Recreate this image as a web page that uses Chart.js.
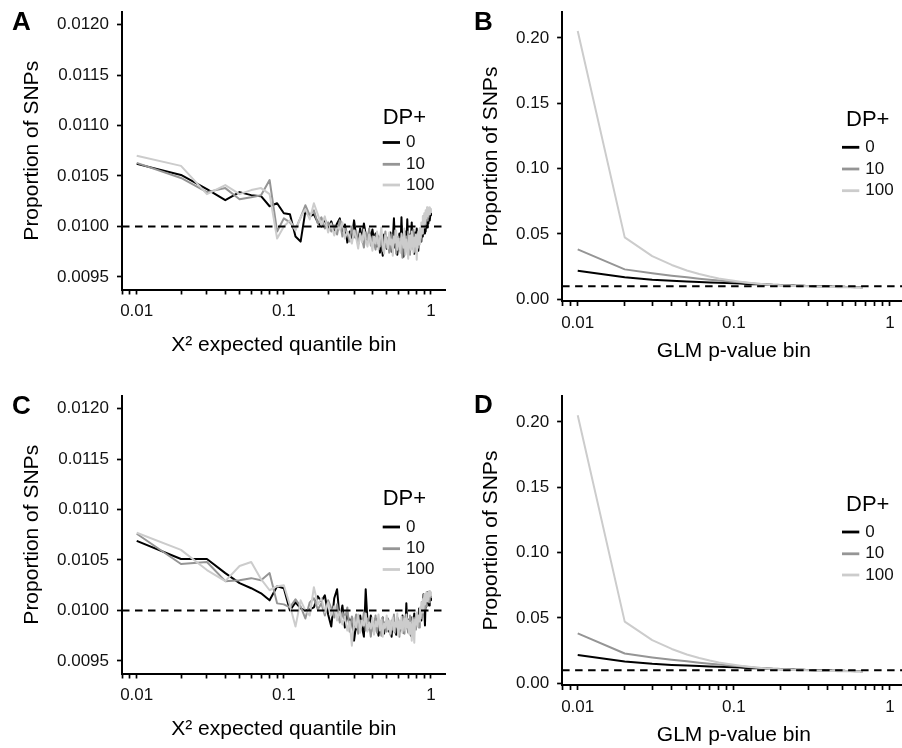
<!DOCTYPE html>
<html>
<head>
<meta charset="utf-8">
<script src="https://cdn.jsdelivr.net/npm/chart.js@4.4.1/dist/chart.umd.min.js"></script>
<style>
  html, body { margin: 0; padding: 0; background: #fff; }
  body { position: relative; width: 902px; height: 748px; overflow: hidden; }
  canvas { position: absolute; }
</style>
</head>
<body>
<canvas id="pA" width="451" height="364" style="left:0px;top:0px;width:451px;height:364px"></canvas>
<canvas id="pB" width="460" height="364" style="left:451px;top:0px;width:460px;height:364px"></canvas>
<canvas id="pC" width="451" height="364" style="left:0px;top:384px;width:451px;height:364px"></canvas>
<canvas id="pD" width="460" height="364" style="left:451px;top:384px;width:460px;height:364px"></canvas>
<script>
// ---------------- DATA ----------------
const bins = [
  0.01,0.02,0.03,0.04,0.05,0.06,0.07,0.08,0.09,0.10,
  0.11,0.12,0.13,0.14,0.15,0.16,0.17,0.18,0.19,0.20,
  0.21,0.22,0.23,0.24,0.25,0.26,0.27,0.28,0.29,0.30,
  0.31,0.32,0.33,0.34,0.35,0.36,0.37,0.38,0.39,0.40,
  0.41,0.42,0.43,0.44,0.45,0.46,0.47,0.48,0.49,0.50,
  0.51,0.52,0.53,0.54,0.55,0.56,0.57,0.58,0.59,0.60,
  0.61,0.62,0.63,0.64,0.65,0.66,0.67,0.68,0.69,0.70,
  0.71,0.72,0.73,0.74,0.75,0.76,0.77,0.78,0.79,0.80,
  0.81,0.82,0.83,0.84,0.85,0.86,0.87,0.88,0.89,0.90,
  0.91,0.92,0.93,0.94,0.95,0.96,0.97,0.98,0.99,1.00
];
const binsGLM = bins.slice(0, 67);

const seriesLabels = ['0', '10', '100'];
const seriesColors = ['#000000', '#959595', '#cccccc'];
const legendTitle = 'DP+';
const refLine = 0.01;

// Panel A: chi-square expected quantile bins
const a0 = [
  0.01062,0.01051,0.01037,0.01026,0.01034,0.01031,0.01030,0.01020,0.01023,0.01013,
  0.01012,0.00990,0.00985,0.01015,0.01010,0.01012,0.01004,0.01000,0.01007,0.00998,
  0.01005,0.00996,0.01003,0.01008,0.00994,0.01002,0.00984,0.00995,0.00988,0.01006,
  0.00990,0.00983,0.00998,0.00987,0.01003,0.00992,0.00985,0.00995,0.00989,0.00997,
  0.00986,0.00993,0.00980,0.00990,0.00974,0.00985,0.00971,0.00992,0.00983,0.00978,
  0.00988,0.00980,0.00994,0.00975,0.00986,0.01008,0.00979,0.00990,0.00972,0.00984,
  0.00993,0.00976,0.01009,0.00981,0.00970,0.00989,0.00995,0.00978,0.01007,0.00983,
  0.00975,0.00992,0.00986,0.01004,0.00979,0.00990,0.00973,0.00994,0.00985,0.00998,
  0.00982,0.00976,0.00993,0.00988,0.00997,0.00985,0.01002,0.00990,0.01010,0.00993,
  0.01001,0.00995,0.01008,0.00999,0.01012,0.01003,0.01016,0.01006,0.01011,0.01015
];
const a10 = [
  0.01063,0.01048,0.01034,0.01038,0.01027,0.01029,0.01031,0.01046,0.00995,0.01008,
  0.01004,0.00997,0.01009,0.01021,0.01011,0.01016,0.01003,0.01009,0.00998,0.01004,
  0.00995,0.01001,0.00992,0.01006,0.00990,0.00998,0.00993,0.00985,0.01000,0.00989,
  0.00996,0.00982,0.00992,0.00988,0.00979,0.00994,0.00986,0.00998,0.00981,0.00990,
  0.00984,0.00977,0.00993,0.00987,0.00980,0.00991,0.00976,0.00985,0.00995,0.00979,
  0.00989,0.00974,0.00983,0.00992,0.00978,0.00987,0.00996,0.00973,0.00984,0.00990,
  0.00977,0.00988,0.00981,0.00969,0.00992,0.00984,0.00975,0.00990,0.00980,0.00995,
  0.00983,0.00972,0.00991,0.00986,0.00978,0.00997,0.00982,0.00975,0.00989,0.00984,
  0.00993,0.00979,0.00988,0.00998,0.00985,0.00992,0.01003,0.00995,0.01008,0.00999,
  0.01011,0.01002,0.01014,0.01006,0.01017,0.01009,0.01018,0.01012,0.01016,0.01014
];
const a100 = [
  0.01070,0.01060,0.01032,0.01041,0.01032,0.01036,0.01038,0.01032,0.00988,0.01000,
  0.01006,0.00996,0.01009,0.01017,0.01007,0.01023,0.01012,0.01001,0.01010,0.00994,
  0.01003,0.00991,0.01000,0.00997,0.01004,0.00988,0.00995,0.00990,0.00983,0.00996,
  0.00989,0.00978,0.00993,0.00984,0.00997,0.00987,0.00980,0.00992,0.00986,0.00976,
  0.00990,0.00983,0.00995,0.00977,0.00988,0.00999,0.00981,0.00973,0.00991,0.00985,
  0.00978,0.00994,0.00982,0.00987,0.00971,0.00990,0.00984,0.00996,0.00977,0.00988,
  0.00982,0.00974,0.00993,0.00985,0.00979,0.00998,0.00972,0.00987,0.00981,0.00968,
  0.00991,0.00983,0.00977,0.00995,0.00986,0.00974,0.00989,0.00980,0.00992,0.00967,
  0.00987,0.00995,0.00982,0.00998,0.00989,0.01004,0.00993,0.01010,0.00999,0.01013,
  0.01003,0.01016,0.01008,0.01019,0.01010,0.01017,0.01012,0.01019,0.01014,0.01018
];

// Panel B: GLM p-value bins
const b0 = [
  0.0219,0.0168,0.0150,0.0142,0.0136,0.0132,0.0129,0.0126,0.0124,0.0122,
  0.0120,0.0118,0.0116,0.0115,0.0113,0.0112,0.0111,0.0110,0.0109,0.0108,
  0.0107,0.0106,0.0106,0.0105,0.0104,0.0104,0.0103,0.0103,0.0102,0.0102,
  0.0101,0.0101,0.0100,0.0100,0.0100,0.0099,0.0099,0.0099,0.0098,0.0098,
  0.0098,0.0098,0.0097,0.0097,0.0097,0.0097,0.0096,0.0096,0.0096,0.0096,
  0.0096,0.0095,0.0095,0.0095,0.0095,0.0095,0.0095,0.0094,0.0094,0.0094,
  0.0094,0.0094,0.0094,0.0094,0.0093,0.0093,0.0093
];
const b10 = [
  0.0382,0.0229,0.0199,0.0181,0.0168,0.0158,0.0150,0.0144,0.0139,0.0134,
  0.0130,0.0126,0.0123,0.0120,0.0118,0.0116,0.0114,0.0112,0.0111,0.0109,
  0.0108,0.0107,0.0106,0.0105,0.0104,0.0104,0.0103,0.0102,0.0102,0.0101,
  0.0101,0.0100,0.0100,0.0099,0.0099,0.0099,0.0098,0.0098,0.0098,0.0097,
  0.0097,0.0097,0.0097,0.0096,0.0096,0.0096,0.0096,0.0095,0.0095,0.0095,
  0.0095,0.0095,0.0094,0.0094,0.0094,0.0094,0.0094,0.0094,0.0093,0.0093,
  0.0093,0.0093,0.0093,0.0093,0.0092,0.0092,0.0092
];
const b100 = [
  0.2054,0.0474,0.0331,0.0263,0.0220,0.0193,0.0174,0.0160,0.0150,0.0142,
  0.0135,0.0129,0.0124,0.0120,0.0117,0.0114,0.0112,0.0110,0.0108,0.0106,
  0.0105,0.0104,0.0103,0.0102,0.0101,0.0100,0.0100,0.0099,0.0099,0.0098,
  0.0098,0.0097,0.0097,0.0097,0.0096,0.0096,0.0096,0.0095,0.0095,0.0095,
  0.0095,0.0094,0.0094,0.0094,0.0094,0.0093,0.0093,0.0093,0.0093,0.0093,
  0.0092,0.0092,0.0092,0.0092,0.0092,0.0092,0.0091,0.0091,0.0091,0.0091,
  0.0091,0.0091,0.0091,0.0090,0.0090,0.0090,0.0090
];

// Panel C: chi-square expected quantile bins
const c0 = [
  0.01069,0.01051,0.01051,0.01037,0.01027,0.01022,0.01017,0.01010,0.01024,0.01022,
  0.01000,0.01008,0.01002,0.01000,0.01001,0.01003,0.01014,0.01009,0.01015,0.00996,
  0.00984,0.01012,0.01021,0.00990,0.01005,0.00983,0.00996,0.00988,0.00992,0.00970,
  0.00986,0.00979,0.00995,0.00983,0.00974,0.01021,0.00990,0.00981,0.00995,0.00986,
  0.00978,0.00992,0.00984,0.00975,0.00989,0.00980,0.00993,0.00977,0.00988,0.00984,
  0.00991,0.00979,0.00985,0.00974,0.00990,0.00982,0.00987,0.00976,0.00993,0.00983,
  0.00979,0.00988,0.00984,0.00995,0.00978,0.00990,0.00982,0.01007,0.00986,0.00979,
  0.00991,0.00984,0.00975,0.00993,0.00981,0.00988,0.00997,0.00983,0.00990,0.00986,
  0.00995,0.00988,0.01002,0.00991,0.00998,0.00990,0.01008,0.00996,0.01016,0.01003,
  0.00985,0.01011,0.01004,0.01018,0.01007,0.01012,0.01005,0.01016,0.01010,0.01013
];
const c10 = [
  0.01076,0.01046,0.01048,0.01029,0.01030,0.01032,0.01030,0.01037,0.01007,0.01006,
  0.01003,0.01011,0.01004,0.00992,0.01008,0.01012,0.01001,0.01007,0.00995,0.01010,
  0.01002,0.00993,0.01006,0.00988,0.00998,0.00991,0.01003,0.00979,0.00994,0.00984,
  0.00996,0.00977,0.00990,0.00985,0.00998,0.00980,0.00992,0.00987,0.00974,0.00989,
  0.00983,0.00995,0.00978,0.00990,0.00986,0.00975,0.00993,0.00982,0.00988,0.00979,
  0.00992,0.00984,0.00976,0.00990,0.00981,0.00996,0.00978,0.00987,0.00983,0.00991,
  0.00974,0.00989,0.00985,0.00980,0.00994,0.00977,0.00988,0.00983,0.00992,0.00978,
  0.00986,0.00995,0.00980,0.00989,0.00976,0.00991,0.00984,0.00993,0.00981,0.00997,
  0.00988,0.00994,0.00983,0.01001,0.00992,0.00999,0.01006,0.00994,0.01012,0.01001,
  0.01009,0.01015,0.01004,0.01018,0.01010,0.01016,0.01008,0.01019,0.01013,0.01017
];
const c100 = [
  0.01077,0.01060,0.01040,0.01029,0.01044,0.01048,0.01031,0.01020,0.01024,0.01025,
  0.01005,0.00984,0.01010,0.01000,0.00995,0.01023,0.01006,0.01012,0.00998,0.01008,
  0.00995,0.01004,0.00990,0.00999,0.00986,0.00994,0.00980,0.00989,0.00965,0.00992,
  0.00983,0.00996,0.00978,0.00990,0.00985,0.00997,0.00979,0.00988,0.00982,0.00993,
  0.00976,0.00989,0.00984,0.00996,0.00980,0.00991,0.00974,0.00987,0.00983,0.00995,
  0.00981,0.00990,0.00977,0.00986,0.00993,0.00979,0.00988,0.00984,0.00997,0.00975,
  0.00989,0.00982,0.00994,0.00978,0.00987,0.00992,0.00980,0.00996,0.00983,0.00990,
  0.00977,0.00988,0.00984,0.00970,0.00993,0.00981,0.00968,0.00991,0.00986,0.00998,
  0.00984,0.00995,0.00989,0.01003,0.00992,0.01008,0.00998,0.01011,0.01002,0.01016,
  0.01006,0.01013,0.01018,0.01009,0.01017,0.01011,0.01019,0.01014,0.01018,0.01015
];

// Panel D: GLM p-value bins
const d0 = [
  0.0216,0.0167,0.0149,0.0141,0.0136,0.0132,0.0129,0.0126,0.0124,0.0122,
  0.0120,0.0118,0.0116,0.0115,0.0113,0.0112,0.0111,0.0110,0.0109,0.0108,
  0.0107,0.0106,0.0106,0.0105,0.0104,0.0104,0.0103,0.0103,0.0102,0.0102,
  0.0101,0.0101,0.0100,0.0100,0.0100,0.0099,0.0099,0.0099,0.0098,0.0098,
  0.0098,0.0098,0.0097,0.0097,0.0097,0.0097,0.0096,0.0096,0.0096,0.0096,
  0.0096,0.0095,0.0095,0.0095,0.0095,0.0095,0.0095,0.0094,0.0094,0.0094,
  0.0094,0.0094,0.0094,0.0094,0.0093,0.0093,0.0093
];
const d10 = [
  0.0382,0.0228,0.0198,0.0180,0.0168,0.0158,0.0150,0.0144,0.0139,0.0134,
  0.0130,0.0126,0.0123,0.0120,0.0118,0.0116,0.0114,0.0112,0.0111,0.0109,
  0.0108,0.0107,0.0106,0.0105,0.0104,0.0104,0.0103,0.0102,0.0102,0.0101,
  0.0101,0.0100,0.0100,0.0099,0.0099,0.0099,0.0098,0.0098,0.0098,0.0097,
  0.0097,0.0097,0.0097,0.0096,0.0096,0.0096,0.0096,0.0095,0.0095,0.0095,
  0.0095,0.0095,0.0094,0.0094,0.0094,0.0094,0.0094,0.0094,0.0093,0.0093,
  0.0093,0.0093,0.0093,0.0093,0.0092,0.0092,0.0092
];
const d100 = [
  0.2051,0.0472,0.0330,0.0263,0.0220,0.0193,0.0174,0.0160,0.0150,0.0142,
  0.0135,0.0129,0.0124,0.0120,0.0117,0.0114,0.0112,0.0110,0.0108,0.0106,
  0.0105,0.0104,0.0103,0.0102,0.0101,0.0100,0.0100,0.0099,0.0099,0.0098,
  0.0098,0.0097,0.0097,0.0097,0.0096,0.0096,0.0096,0.0095,0.0095,0.0095,
  0.0095,0.0094,0.0094,0.0094,0.0094,0.0093,0.0093,0.0093,0.0093,0.0093,
  0.0092,0.0092,0.0092,0.0092,0.0092,0.0092,0.0091,0.0091,0.0091,0.0091,
  0.0091,0.0091,0.0091,0.0090,0.0090,0.0090,0.0090
];

// Tick values and labels
const xTickValues = [0.008,0.009,0.01,0.02,0.03,0.04,0.05,0.06,0.07,0.08,0.09,0.1,0.2,0.3,0.4,0.5,0.6,0.7,0.8,0.9,1];
const xTickLabels = ['','','0.01','','','','','','','','','0.1','','','','','','','','','1'];
const yTickValuesChi = [0.0095,0.0100,0.0105,0.0110,0.0115,0.0120];
const yTickLabelsChi = ['0.0095','0.0100','0.0105','0.0110','0.0115','0.0120'];
const yTickValuesGLM = [0.00,0.05,0.10,0.15,0.20];
const yTickLabelsGLM = ['0.00','0.05','0.10','0.15','0.20'];

const xTitleChi = 'Χ² expected quantile bin';
const xTitleGLM = 'GLM p-value bin';
const yTitle = 'Proportion of SNPs';

// ---------------- RENDERING ----------------
const FONT = '"Liberation Sans", Arial, Helvetica, sans-serif';
const X_MIN = Math.pow(10, -2.1), X_MAX = Math.pow(10, 0.1);

const decor = {
  id: 'decor',
  afterDraw(chart, args, o) {
    const ctx = chart.ctx;
    ctx.save();
    ctx.fillStyle = '#000';
    ctx.font = 'bold 26px ' + FONT;
    ctx.textBaseline = 'alphabetic';
    ctx.textAlign = 'left';
    ctx.fillText(o.letter, o.letterX, o.letterY);
    ctx.font = '22px ' + FONT;
    ctx.textBaseline = 'middle';
    ctx.fillText(legendTitle, o.titleX, o.titleY);
    ctx.font = '17px ' + FONT;
    const ds = chart.data.datasets.filter(d => d.legendIndex !== undefined)
      .sort((p, q) => p.legendIndex - q.legendIndex);
    ds.forEach((d, i) => {
      const y = o.rowY[i];
      ctx.strokeStyle = d.borderColor;
      ctx.lineWidth = 2.8;
      ctx.lineCap = 'butt';
      ctx.beginPath();
      ctx.moveTo(o.keyX0, y);
      ctx.lineTo(o.keyX1, y);
      ctx.stroke();
      ctx.fillStyle = '#111';
      ctx.fillText(d.label, o.textX, y);
    });
    ctx.restore();
  }
};

function makePanel(id, p) {
  const series = [p.s0, p.s10, p.s100];
  const datasets = [{
    label: 'ref',
    data: [{x: X_MIN, y: refLine}, {x: X_MAX, y: refLine}],
    borderColor: '#000', borderWidth: 2, borderDash: [7.5, 5.5],
    pointRadius: 0, tension: 0, order: 0
  }];
  for (let i = 2; i >= 0; i--) {
    datasets.push({
      label: seriesLabels[i],
      legendIndex: i,
      data: p.x.map((x, k) => ({x: x, y: series[i][k]})),
      borderColor: seriesColors[i], borderWidth: 2,
      borderJoinStyle: 'round', pointRadius: 0, tension: 0,
      order: 3 - i
    });
  }
  const axisCommon = {
    border: {display: true, color: '#000', width: 2},
    grid: {drawOnChartArea: false, drawTicks: true, tickLength: 5, tickWidth: 1.7, tickColor: '#000'}
  };
  new Chart(document.getElementById(id), {
    type: 'line',
    data: {datasets},
    plugins: [decor],
    options: {
      responsive: false, animation: false, devicePixelRatio: 1,
      layout: {padding: {left: 0, top: 12, right: p.padRight, bottom: 0}},
      plugins: {legend: {display: false}, tooltip: {enabled: false}, decor: p.decor},
      scales: {
        x: Object.assign({
          type: 'logarithmic', min: X_MIN, max: X_MAX,
          afterBuildTicks: s => { s.ticks = xTickValues.map(v => ({value: v})); },
          afterFit: s => { s.height = p.xHeight; s.paddingLeft = 0; s.paddingRight = 0; },
          ticks: {autoSkip: false, maxRotation: 0, minRotation: 0, padding: 7, color: '#111',
                  font: {family: FONT, size: 17}, callback: (v, i) => xTickLabels[i]},
          title: {display: true, text: p.xTitle, color: '#000', font: {family: FONT, size: 21},
                  padding: {top: 0, bottom: p.xTitlePad}}
        }, axisCommon),
        y: Object.assign({
          type: 'linear', min: p.yMin, max: p.yMax,
          afterBuildTicks: s => { s.ticks = p.yTicks.map(v => ({value: v})); },
          afterFit: s => { s.width = p.yWidth; s.paddingTop = 0; s.paddingBottom = 0; },
          ticks: {autoSkip: false, padding: 8, color: '#111',
                  font: {family: FONT, size: 17}, callback: (v, i) => p.yLabels[i]},
          title: {display: true, text: yTitle, color: '#000', font: {family: FONT, size: 21},
                  padding: {top: p.yTitlePad, bottom: 0}}
        }, axisCommon)
      }
    }
  });
}

const chiCommon = {
  x: bins, yMin: 0.009375, yMax: 0.012125, yTicks: yTickValuesChi, yLabels: yTickLabelsChi,
  xTitle: xTitleChi, padRight: 5.3, xHeight: 74.5, yWidth: 122, xTitlePad: 6, yTitlePad: 19.5
};
const glmCommon = {
  x: binsGLM, yMin: -0.0013, yMax: 0.2199, yTicks: yTickValuesGLM, yLabels: yTickLabelsGLM,
  xTitle: xTitleGLM, padRight: 5.4, xHeight: 63, yWidth: 111.1, xTitlePad: 0, yTitlePad: 27.5
};

makePanel('pA', Object.assign({}, chiCommon, {s0: a0, s10: a10, s100: a100,
  decor: {letter: 'A', letterX: 12, letterY: 30, titleX: 382.7, titleY: 117.5,
          rowY: [142.5, 164.3, 185], keyX0: 382.7, keyX1: 400, textX: 406}}));
makePanel('pB', Object.assign({}, glmCommon, {s0: b0, s10: b10, s100: b100,
  decor: {letter: 'B', letterX: 23, letterY: 29.5, titleX: 395, titleY: 119.8,
          rowY: [147.3, 169, 190.7], keyX0: 391, keyX1: 408.3, textX: 414.3}}));
makePanel('pC', Object.assign({}, chiCommon, {s0: c0, s10: c10, s100: c100,
  decor: {letter: 'C', letterX: 12, letterY: 30, titleX: 382.7, titleY: 115,
          rowY: [143, 164.7, 185.5], keyX0: 382.7, keyX1: 400, textX: 406}}));
makePanel('pD', Object.assign({}, glmCommon, {s0: d0, s10: d10, s100: d100,
  decor: {letter: 'D', letterX: 23, letterY: 29, titleX: 395, titleY: 120.5,
          rowY: [148, 169.8, 191], keyX0: 391, keyX1: 408.3, textX: 414.3}}));
</script>
</body>
</html>
